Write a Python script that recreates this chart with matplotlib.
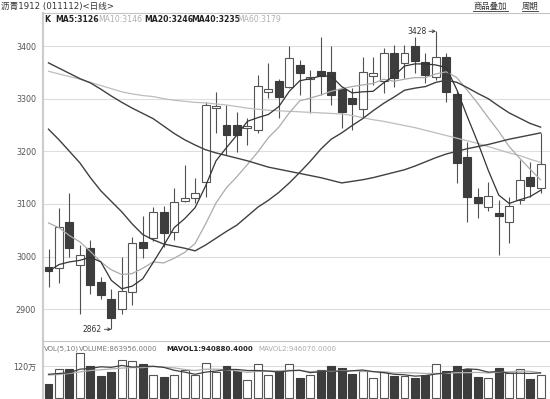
import matplotlib
matplotlib.use('Agg')
import matplotlib.pyplot as plt
import numpy as np

plt.rcParams['font.family'] = ['DejaVu Sans', 'Noto Sans CJK SC']

# daily candles, left to right
open_ = [2981, 2978, 3066, 2985, 3016, 2951, 2919, 2900, 2933, 3028, 3035, 3085, 3047, 3106, 3112, 3142,
         3282, 3250, 3250, 3244, 3241, 3313, 3334, 3323, 3364, 3337, 3353, 3351, 3318, 3301, 3280, 3344,
         3334, 3387, 3367, 3400, 3370, 3342, 3380, 3308, 3190, 3113, 3095, 3083, 3066, 3108, 3152, 3130]
high = [3014, 3092, 3120, 3022, 3032, 2962, 2938, 3000, 3037, 3077, 3094, 3096, 3130, 3174, 3149, 3294,
        3313, 3288, 3275, 3263, 3345, 3367, 3338, 3400, 3373, 3355, 3417, 3400, 3322, 3320, 3380, 3380,
        3396, 3402, 3402, 3417, 3386, 3428, 3386, 3315, 3218, 3130, 3142, 3108, 3114, 3183, 3180, 3234]
low = [2942, 2949, 3000, 2892, 2930, 2919, 2862, 2892, 2908, 2997, 3030, 3019, 3032, 3103, 3101, 3114,
       3234, 3193, 3199, 3212, 3234, 3301, 3263, 3320, 3307, 3272, 3307, 3288, 3244, 3240, 3266, 3326,
       3310, 3323, 3340, 3349, 3329, 3335, 3294, 3139, 3066, 3073, 3087, 3003, 3025, 3100, 3114, 3120]
close = [2973, 3057, 3016, 3003, 2946, 2927, 2884, 2935, 3026, 3017, 3085, 3044, 3104, 3111, 3121, 3288,
         3286, 3231, 3231, 3248, 3324, 3318, 3304, 3377, 3348, 3342, 3343, 3307, 3275, 3290, 3351, 3348,
         3386, 3340, 3386, 3372, 3345, 3379, 3313, 3177, 3114, 3102, 3115, 3078, 3097, 3146, 3134, 3175]

ma5 = [2972, 2985, 2990, 2993, 2999, 2990, 2955, 2939, 2944, 2958, 2989, 3021, 3055, 3072, 3093, 3134,
       3182, 3207, 3231, 3257, 3264, 3270, 3285, 3314, 3334, 3338, 3343, 3343, 3323, 3311, 3313, 3314,
       3330, 3343, 3362, 3366, 3366, 3364, 3359, 3317, 3266, 3217, 3164, 3117, 3101, 3108, 3114, 3126]
ma10 = [3064, 3055, 3040, 3028, 3010, 2990, 2975, 2966, 2968, 2978, 2990, 2988, 2997, 3008, 3025, 3062,
        3102, 3131, 3152, 3175, 3199, 3226, 3246, 3273, 3296, 3301, 3307, 3314, 3319, 3323, 3326, 3329,
        3337, 3333, 3337, 3340, 3340, 3347, 3351, 3340, 3316, 3291, 3264, 3238, 3209, 3187, 3166, 3146]
ma20 = [3242, 3222, 3200, 3178, 3150, 3125, 3105, 3085, 3062, 3042, 3032, 3024, 3020, 3016, 3011, 3022,
        3035, 3048, 3060, 3077, 3094, 3107, 3122, 3140, 3160, 3181, 3204, 3223, 3235, 3249, 3262, 3277,
        3291, 3303, 3316, 3320, 3323, 3331, 3335, 3331, 3321, 3310, 3300, 3286, 3273, 3263, 3253, 3246]
ma40 = [3368, 3358, 3348, 3338, 3330, 3318, 3305, 3293, 3282, 3272, 3262, 3248, 3234, 3222, 3212, 3203,
        3197, 3192, 3187, 3182, 3176, 3170, 3166, 3162, 3158, 3154, 3150, 3145, 3140, 3143, 3146, 3150,
        3155, 3160, 3165, 3172, 3180, 3188, 3195, 3200, 3205, 3209, 3213, 3218, 3223, 3227, 3231, 3235]
ma60 = [3352, 3347, 3342, 3337, 3331, 3325, 3319, 3313, 3309, 3306, 3304, 3300, 3297, 3295, 3293, 3292,
        3290, 3288, 3285, 3282, 3280, 3278, 3277, 3276, 3275, 3274, 3273, 3272, 3271, 3268, 3264, 3260,
        3257, 3253, 3249, 3245, 3240, 3235, 3230, 3225, 3220, 3215, 3209, 3203, 3197, 3192, 3185, 3179]

# volume in 10k lots (万)
volume = [53, 107, 107, 169, 120, 81, 98, 143, 139, 127, 88, 77, 88, 105, 85, 130,
          96, 121, 101, 68, 127, 88, 101, 127, 75, 85, 105, 120, 111, 89, 102, 75,
          96, 82, 82, 75, 85, 127, 103, 120, 108, 77, 76, 112, 92, 108, 72, 86.4]
mavol1 = [89, 92, 95, 108, 111, 117, 115, 122, 116, 118, 119, 115, 104, 97, 89, 97,
          101, 107, 107, 103, 103, 101, 97, 102, 104, 95, 99, 102, 99, 102, 105, 99,
          95, 89, 87, 82, 84, 90, 94, 102, 109, 107, 97, 99, 93, 93, 92, 94.1]
mavol2 = [86, 88, 92, 98, 103, 106, 109, 112, 114, 114, 118, 115, 113, 107, 103, 108,
          108, 106, 102, 96, 100, 101, 102, 104, 103, 99, 100, 100, 101, 103, 100, 99,
          99, 94, 95, 94, 92, 92, 92, 95, 95, 96, 94, 97, 98, 101, 100, 94.6]

W, H = 550, 399


def box(l, t, r, b):
    return [l / W, 1 - b / H, (r - l) / W, (b - t) / H]


fig = plt.figure(figsize=(5.5, 3.99), dpi=100)
ax = fig.add_axes(box(43, 13, 550, 341))
axv = fig.add_axes(box(43, 341, 550, 399))

x = np.arange(len(close))
o = np.array(open_)
c = np.array(close)
up = c >= o
dark = '#3d3d3d'

# candles
ax.vlines(x, low, high, color='#505050', lw=0.8, zorder=2)
body_bot = np.minimum(o, c)
body_h = np.maximum(np.abs(c - o), 2)
ax.bar(x[up], body_h[up], bottom=body_bot[up], width=0.76, color='white',
       edgecolor='#555555', linewidth=0.8, zorder=3)
ax.bar(x[~up], body_h[~up], bottom=body_bot[~up], width=0.76, color=dark,
       edgecolor=dark, linewidth=0.8, zorder=3)

ax.plot(x, ma60, color='#bdbdbd', lw=0.9, zorder=4)
ax.plot(x, ma10, color='#ababab', lw=0.9, zorder=4)
ax.plot(x, ma40, color='#404040', lw=1.0, zorder=4)
ax.plot(x, ma20, color='#404040', lw=1.0, zorder=4)
ax.plot(x, ma5, color='#333333', lw=0.9, zorder=5)

ax.annotate('2862', xy=(6, 2862), xytext=(-7, 0), textcoords='offset points',
            ha='right', va='center', fontsize=5.5, color='#333333',
            arrowprops=dict(arrowstyle='->', color='#333333', lw=0.6,
                            shrinkA=0, shrinkB=0, mutation_scale=5))
ax.annotate('3428', xy=(37, 3428), xytext=(-7, 0), textcoords='offset points',
            ha='right', va='center', fontsize=5.5, color='#333333',
            arrowprops=dict(arrowstyle='->', color='#333333', lw=0.6,
                            shrinkA=0, shrinkB=0, mutation_scale=5))

xl = ((43 - 48.5) / 10.47, (550 - 48.5) / 10.47)
ax.set_xlim(*xl)
ax.set_ylim(2839.8, 3462.7)
ax.set_yticks([2900, 3000, 3100, 3200, 3300, 3400])
ax.grid(axis='y', color='#dedede', lw=0.8)
ax.set_axisbelow(True)

# volume bars
v = np.array(volume) * 1e4
axv.bar(x[up], v[up], width=0.76, color='white', edgecolor='#555555', linewidth=0.8, zorder=3)
axv.bar(x[~up], v[~up], width=0.76, color=dark, edgecolor=dark, linewidth=0.8, zorder=3)
axv.plot(x, np.array(mavol2) * 1e4, color='#b0b0b0', lw=0.9, zorder=4)
axv.plot(x, np.array(mavol1) * 1e4, color='#404040', lw=0.9, zorder=5)
axv.set_xlim(*xl)
axv.set_ylim(-0.0375e6, 2.1375e6)
axv.set_yticks([1.2e6])
axv.set_yticklabels(['120万'])
axv.grid(axis='y', color='#dedede', lw=0.8)
axv.set_axisbelow(True)

for a in (ax, axv):
    for s in ('right', 'bottom'):
        a.spines[s].set_visible(False)
    a.spines['left'].set_color('#cccccc')
    a.spines['left'].set_linewidth(1.5)
    a.spines['top'].set_color('#c4c4c4')
    a.spines['top'].set_linewidth(0.8)
    a.tick_params(axis='x', bottom=False, labelbottom=False)
    a.tick_params(axis='y', length=0, pad=5, labelsize=5.8, labelcolor='#555555')


def ftext(px, py, s, **kw):
    fig.text(px / W, 1 - py / H, s, va='center', **kw)


ftext(1, 6, '沥青1912 (011112)<日线>', fontsize=6.2, color='#333333')
ftext(473, 6, '商品叠加', fontsize=6, color='#333333')
ftext(522, 6, '周期', fontsize=6, color='#333333')
for x0, x1 in ((473, 508), (522, 538)):
    fig.add_artist(plt.Line2D([x0 / W, x1 / W], [1 - 10.5 / H, 1 - 10.5 / H],
                              transform=fig.transFigure, color='#333333', lw=0.6))

ftext(44, 20, 'K', fontsize=5.6, color='#222222', fontweight='bold')
ftext(55, 20, 'MA5:3126', fontsize=5.6, color='#222222', fontweight='bold')
ftext(98, 20, 'MA10:3146', fontsize=5.6, color='#b0b0b0')
ftext(144, 20, 'MA20:3246', fontsize=5.6, color='#222222', fontweight='bold')
ftext(191, 20, 'MA40:3235', fontsize=5.6, color='#222222', fontweight='bold')
ftext(237, 20, 'MA60:3179', fontsize=5.6, color='#b0b0b0')

ftext(44, 349, 'VOL(5,10)', fontsize=5.0, color='#777777')
ftext(79, 349, 'VOLUME:863956.0000', fontsize=5.0, color='#777777')
ftext(166, 349, 'MAVOL1:940880.4000', fontsize=5.0, color='#222222', fontweight='bold')
ftext(258, 349, 'MAVOL2:946070.0000', fontsize=5.0, color='#aaaaaa')

fig.savefig('out.png', dpi=100)
